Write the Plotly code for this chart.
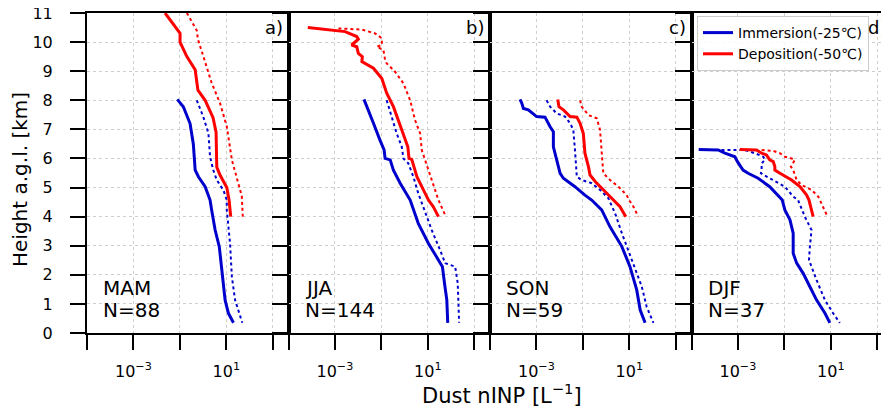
import plotly.graph_objects as go

# ---------------- data ----------------
seasons = ["MAM", "JJA", "SON", "DJF"]
counts = [88, 144, 59, 37]
panel_letters = ["a)", "b)", "c)", "d)"]
series_names = ["Immersion(-25℃)", "Deposition(-50℃)"]

x_major_tickvals = [1e-3, 1e1]
x_major_ticktext = ["10<sup>−3</sup>", "10<sup>1</sup>"]
x_minor_tickvals = [1e-5, 1e-1, 1e3]
y_tickvals = list(range(0, 12))

# MAM
mam_imm_h = [8.03, 7.78, 7.2, 6.5, 5.6, 5.37, 5.03, 4.57, 4.23, 3.54, 2.96, 2.06, 1.13, 0.68, 0.35]
mam_imm_v = [0.0776, 0.141, 0.275, 0.380, 0.457, 0.631, 1.23, 2.0, 2.34, 3.31, 5.01, 6.46, 8.91, 12.3, 20.4]
mam_imm_hi_h = [8.0, 7.43, 6.87, 6.06, 5.6, 5.26, 4.9, 4.57, 4.23, 3.09, 1.93, 1.13, 0.35]
mam_imm_hi_v = [0.537, 1.02, 1.70, 2.0, 2.75, 3.89, 7.59, 10.5, 10.5, 14.5, 17.4, 24.0, 49.0]
mam_dep_h = [11.0, 10.3, 10.0, 9.5, 9.05, 8.35, 8.0, 7.4, 6.9, 5.7, 5.43, 5.0, 4.57, 4.0]
mam_dep_v = [0.023, 0.102, 0.102, 0.20, 0.457, 0.60, 1.23, 2.69, 3.63, 3.89, 5.37, 10.5, 13.2, 15.5]
mam_dep_hi_h = [11.0, 10.4, 10.1, 9.3, 8.6, 7.9, 7.1, 5.95, 5.37, 4.7, 4.0]
mam_dep_hi_v = [0.20, 0.537, 0.60, 1.23, 2.34, 5.37, 10.5, 17.4, 28.2, 46.8, 51.3]

# JJA
jja_imm_h = [8.03, 7.67, 7.21, 6.63, 6.29, 6.0, 5.95, 5.6, 5.15, 4.57, 3.77, 3.08, 2.51, 2.45, 2.28, 1.71, 1.13, 0.35]
jja_imm_v = [0.0178, 0.0275, 0.0457, 0.0871, 0.132, 0.145, 0.240, 0.331, 0.646, 1.74, 3.89, 10.7, 28.8, 33.9, 42.7, 52.5, 66.1, 72.4]
jja_imm_hi_h = [8.0, 7.44, 6.86, 6.40, 6.0, 5.83, 5.37, 4.8, 4.46, 3.54, 2.85, 2.40, 2.28, 1.71, 0.35]
jja_imm_hi_v = [0.17, 0.282, 0.457, 0.759, 0.891, 1.45, 2.40, 3.89, 5.50, 14.8, 33.9, 56.2, 151, 195, 224]
jja_dep_h = [10.5, 10.36, 10.19, 10.1, 9.9, 9.84, 9.61, 9.5, 9.33, 9.27, 9.1, 8.75, 8.24, 7.78, 7.32, 6.86, 6.40, 6.0, 5.97, 5.37, 4.92, 4.57, 4.34, 4.0]
jja_dep_v = [6.76e-5, 2.75e-3, 8.71e-3, 1.02e-2, 5.25e-3, 8.71e-3, 1.02e-2, 1.51e-2, 1.45e-2, 2.0e-2, 4.57e-2, 0.105, 0.17, 0.331, 0.537, 0.891, 1.38, 1.55, 2.04, 3.39, 6.46, 10.7, 17.4, 28.8]
jja_dep_hi_h = [10.47, 10.43, 10.3, 10.13, 9.9, 9.84, 9.73, 9.38, 9.27, 8.98, 8.58, 8.0, 7.32, 6.86, 6.29, 5.95, 5.49, 4.92, 4.57, 4.0]
jja_dep_hi_v = [1.41e-3, 1.45e-2, 5.37e-2, 0.105, 0.105, 0.063, 0.123, 0.145, 0.17, 0.389, 0.891, 1.74, 2.82, 4.68, 5.50, 7.59, 12.6, 20.4, 28.8, 60.3]

# SON
son_imm_h = [8.03, 7.9, 7.72, 7.67, 7.44, 7.42, 7.09, 6.92, 6.40, 5.95, 5.49, 5.32, 5.03, 4.74, 4.57, 4.23, 3.65, 2.97, 2.28, 1.48, 0.79, 0.35]
son_imm_v = [1.95e-4, 2.34e-4, 2.75e-4, 4.47e-4, 1.02e-3, 2.34e-3, 3.89e-3, 5.37e-3, 5.37e-3, 7.41e-3, 1.05e-2, 1.45e-2, 4.57e-2, 0.123, 0.24, 0.646, 1.48, 4.79, 10.7, 20.9, 29.5, 47.9]
son_imm_hi_h = [8.0, 7.78, 7.55, 7.44, 7.21, 6.98, 6.29, 5.37, 5.26, 5.15, 4.92, 4.63, 4.11, 3.43, 2.51, 1.59, 0.90, 0.35]
son_imm_hi_v = [2.75e-3, 3.89e-3, 7.41e-3, 1.70e-2, 2.82e-2, 3.89e-2, 4.57e-2, 5.50e-2, 8.91e-2, 0.24, 0.55, 1.26, 2.45, 4.79, 12.9, 34.7, 56.2, 110]
son_dep_h = [8.03, 7.78, 7.67, 7.44, 7.42, 7.21, 6.86, 6.18, 5.72, 5.43, 5.21, 4.92, 4.60, 4.34, 4.0]
son_dep_v = [8.32e-3, 9.33e-3, 1.45e-2, 2.82e-2, 5.50e-2, 7.59e-2, 0.105, 0.123, 0.174, 0.204, 0.339, 0.759, 2.04, 3.98, 7.08]
son_dep_hi_h = [8.0, 7.78, 7.49, 7.38, 6.98, 6.29, 5.49, 5.26, 5.03, 4.74, 4.57, 4.34, 4.0]
son_dep_hi_v = [7.59e-2, 8.91e-2, 0.174, 0.398, 0.55, 0.646, 0.759, 1.48, 3.39, 7.76, 9.77, 15.1, 24.5]

# DJF
djf_imm_h = [6.31, 6.29, 6.18, 6.06, 5.89, 5.78, 5.60, 5.49, 5.32, 5.03, 4.74, 4.57, 4.23, 3.89, 3.43, 2.74, 2.40, 2.05, 1.59, 1.13, 0.68, 0.35]
djf_imm_v = [2.04e-5, 1.41e-4, 2.75e-4, 7.41e-4, 9.55e-4, 1.20e-3, 1.66e-3, 2.75e-3, 7.41e-3, 2.34e-2, 5.37e-2, 8.13e-2, 0.105, 0.174, 0.24, 0.24, 0.339, 0.646, 1.26, 2.45, 5.62, 9.12]
djf_imm_hi_h = [6.29, 6.29, 6.18, 6.06, 5.95, 5.83, 5.60, 5.49, 5.32, 5.03, 4.69, 4.57, 4.0, 3.54, 2.97, 2.51, 1.82, 1.13, 0.68, 0.35]
djf_imm_hi_v = [1.95e-4, 2.0e-3, 5.37e-3, 1.23e-2, 1.45e-2, 1.05e-2, 1.05e-2, 9.77e-3, 2.34e-2, 0.105, 0.24, 0.389, 0.759, 1.48, 1.26, 1.15, 2.45, 5.62, 12.6, 24.5]
djf_dep_h = [6.31, 6.29, 6.18, 6.12, 5.95, 5.89, 5.72, 5.60, 5.49, 5.26, 5.03, 4.74, 4.57, 4.34, 4.0]
djf_dep_v = [1.20e-3, 6.31e-3, 1.05e-2, 1.70e-2, 2.34e-2, 3.31e-2, 3.89e-2, 3.89e-2, 6.46e-2, 0.204, 0.468, 0.912, 1.15, 1.38, 1.74]
djf_dep_hi_h = [6.29, 6.26, 6.18, 6.06, 6.0, 5.95, 5.72, 5.60, 5.26, 5.09, 4.92, 4.69, 4.57, 4.46, 4.0]
djf_dep_hi_v = [1.05e-2, 3.31e-2, 6.46e-2, 0.105, 0.204, 0.282, 0.191, 0.24, 0.339, 0.55, 1.48, 2.88, 3.39, 3.98, 7.24]

panels = [
    (mam_imm_v, mam_imm_h, mam_imm_hi_v, mam_imm_hi_h, mam_dep_v, mam_dep_h, mam_dep_hi_v, mam_dep_hi_h),
    (jja_imm_v, jja_imm_h, jja_imm_hi_v, jja_imm_hi_h, jja_dep_v, jja_dep_h, jja_dep_hi_v, jja_dep_hi_h),
    (son_imm_v, son_imm_h, son_imm_hi_v, son_imm_hi_h, son_dep_v, son_dep_h, son_dep_hi_v, son_dep_hi_h),
    (djf_imm_v, djf_imm_h, djf_imm_hi_v, djf_imm_hi_h, djf_dep_v, djf_dep_h, djf_dep_hi_v, djf_dep_hi_h),
]

# ---------------- styling ----------------
# the page body has an 8px margin, so the figure is drawn 8px in from the top-left corner
OFF = 8
W, H = 889 - OFF, 408 - OFF
ML, MR, MT, MB = 87 - OFF, 0, 13 - OFF, 75
PW = W - ML - MR          # 802 px plot width
PH = H - MT - MB          # 320 px plot height
BLUE = "#0000cd"
RED = "#ff0000"
FONT = "DejaVu Sans"
GRID = "#cfcfcf"

panel_px = [(0, 201.5), (201.5, 403.0), (403.0, 604.5), (604.5, 802.0)]
px_per_dec = 201.5 / 8.68

fig = go.Figure()
for i, (iv, ih, ihv, ihh, dv, dh, dhv, dhh) in enumerate(panels):
    xa = "x" if i == 0 else f"x{i+1}"
    ya = "y" if i == 0 else f"y{i+1}"
    first = i == 0
    fig.add_trace(go.Scatter(x=ihv, y=ihh, mode="lines", xaxis=xa, yaxis=ya,
                             line=dict(color=BLUE, width=2, dash="dot"), showlegend=False))
    fig.add_trace(go.Scatter(x=dhv, y=dhh, mode="lines", xaxis=xa, yaxis=ya,
                             line=dict(color=RED, width=2, dash="dot"), showlegend=False))
    fig.add_trace(go.Scatter(x=iv, y=ih, mode="lines", xaxis=xa, yaxis=ya, name=series_names[0],
                             line=dict(color=BLUE, width=3), showlegend=first, legendrank=1))
    fig.add_trace(go.Scatter(x=dv, y=dh, mode="lines", xaxis=xa, yaxis=ya, name=series_names[1],
                             line=dict(color=RED, width=3), showlegend=first, legendrank=2))

layout = dict(
    width=W, height=H, margin=dict(l=ML, r=MR, t=MT, b=MB, autoexpand=False),
    paper_bgcolor="white", plot_bgcolor="white",
    font=dict(family=FONT, size=15, color="black"),
    showlegend=True,
    legend=dict(x=(697 - 87) / PW, y=(333 - 16) / PH, xanchor="left", yanchor="top",
                bgcolor="rgba(255,255,255,0.85)", bordercolor="#cccccc", borderwidth=1,
                font=dict(family=FONT, size=14), itemwidth=30, tracegroupgap=0),
)
for i in range(4):
    sfx = "" if i == 0 else str(i + 1)
    p0, p1 = panel_px[i]
    xmax = -5 + (p1 - p0) / px_per_dec
    layout["xaxis" + sfx] = dict(
        type="log", domain=[p0 / PW, p1 / PW], range=[-5, xmax], anchor="y" + sfx,
        tickmode="array", tickvals=x_major_tickvals, ticktext=x_major_ticktext,
        ticks="outside", ticklen=15, tickwidth=2, tickcolor="black",
        minor=dict(tickmode="array", tickvals=x_minor_tickvals, ticks="outside", ticklen=15,
                   tickwidth=2, tickcolor="black", showgrid=True, gridcolor=GRID, gridwidth=1,
                   griddash="dot"),
        showline=True, linecolor="black", linewidth=2, mirror=True,
        showgrid=True, gridcolor=GRID, gridwidth=1, griddash="dot",
        tickfont=dict(size=16), ticklabelstandoff=8, zeroline=False,
    )
    layout["yaxis" + sfx] = dict(
        range=[0, 11], anchor="x" + sfx, tickmode="array", tickvals=y_tickvals,
        ticks="outside", ticklen=15, tickwidth=2, tickcolor="black",
        showline=True, linecolor="black", linewidth=2, mirror=(i < 3),
        showgrid=True, gridcolor=GRID, gridwidth=1, griddash="dot",
        showticklabels=(i == 0), tickfont=dict(size=16), ticklabelstandoff=14, zeroline=False,
        ticklabeloverflow="allow",
    )
fig.update_layout(**layout)

ann = []
for i in range(4):
    sfx = "" if i == 0 else str(i + 1)
    ann.append(dict(xref=f"x{sfx} domain", yref=f"y{sfx}", x=0, y=1.53, xanchor="left", yanchor="middle",
                    xshift=14, text=seasons[i], showarrow=False, font=dict(size=20)))
    ann.append(dict(xref=f"x{sfx} domain", yref=f"y{sfx}", x=0, y=0.80, xanchor="left", yanchor="middle",
                    xshift=14, text=f"N={counts[i]}", showarrow=False, font=dict(size=20)))
    ann.append(dict(xref=f"x{sfx} domain", yref=f"y{sfx} domain", x=1, y=1, xanchor="right", yanchor="top",
                    xshift=(-4 if i < 3 else -1), yshift=-2, text=panel_letters[i], showarrow=False,
                    font=dict(size=18)))
ann.append(dict(xref="paper", yref="paper", x=(502 - 87) / PW, y=-(394 - 333) / PH, xanchor="center",
                yanchor="middle", text="Dust nINP [L<sup>−1</sup>]", showarrow=False, font=dict(size=21)))
ann.append(dict(xref="paper", yref="paper", x=(20 - 87) / PW, y=(333 - 180) / PH, xanchor="center",
                yanchor="middle", textangle=-90, text="Height a.g.l. [km]", showarrow=False,
                font=dict(size=20)))
fig.update_layout(annotations=ann)

fig.write_html("out.html")
